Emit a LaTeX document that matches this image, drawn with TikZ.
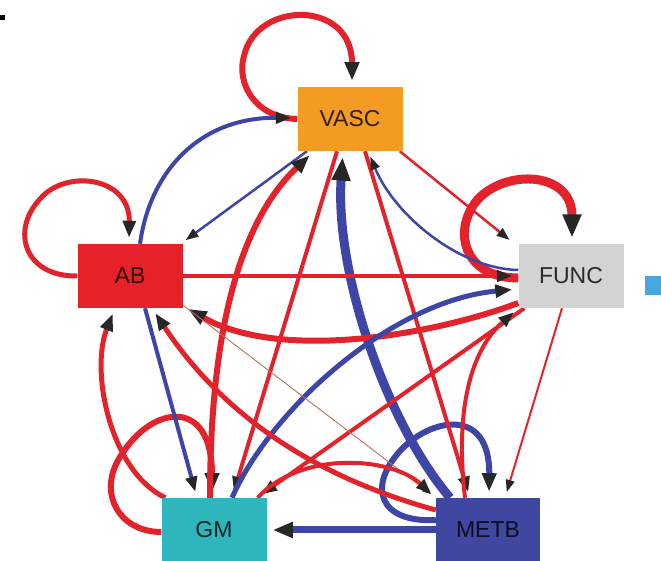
\documentclass[tikz,border=0pt]{standalone}
\usepackage{fontspec}
\setmainfont{Liberation Sans}
\usepackage{xcolor}
\usepackage{tikz}
\usetikzlibrary{arrows.meta,backgrounds}
\definecolor{vascorange}{HTML}{F49B24}
\definecolor{abred}{HTML}{E62129}
\definecolor{funcgrey}{HTML}{D3D3D3}
\definecolor{gmteal}{HTML}{2FB6BD}
\definecolor{metbblue}{HTML}{3F47A1}
\definecolor{edgered}{HTML}{E2232B}
\definecolor{edgeblue}{HTML}{3D45A6}
\definecolor{tipgrey}{HTML}{272727}
\definecolor{thinbrown}{HTML}{B8705C}
\definecolor{markblue}{HTML}{4AA6DE}

\begin{document}
\begin{tikzpicture}[x=1pt,y=1pt,
      box/.style={rectangle,minimum width=105pt,minimum height=64pt,
                  inner sep=0pt,font=\fontsize{23}{27}\selectfont,
                  text=black,text opacity=0.8},
      arr/.style={-{Triangle[length=9pt 1.6,width=6pt 1.3,color=tipgrey]},
                  shorten >=6pt},
      redl/.style={arr,draw=edgered,line width=#1},
      redl/.default=4pt,
      bluel/.style={arr,draw=edgeblue,line width=#1},
      bluel/.default=4pt,
      thinl/.style={-{Triangle[length=9pt,width=6pt,color=tipgrey]},
                  draw=thinbrown,line width=0.9pt,shorten >=6pt}]
    \useasboundingbox (0,0) rectangle (661,561);

    \node[box,fill=vascorange] (vasc) at (350,442) {VASC};
    \node[box,fill=abred]      (ab)   at (130,285) {AB};
    \node[box,fill=funcgrey]   (func) at (571,285) {FUNC};
    \node[box,fill=gmteal]     (gm)   at (214,31)  {GM};
    \node[box,fill=metbblue,minimum width=104pt] (metb) at (488,31) {METB};

    \fill[markblue] (645,266) rectangle (665,285);
    \fill[black] (0,541) rectangle (5,546);

    \begin{scope}[on background layer]
    % self loops
    \draw[redl=6pt] (vasc.west) .. controls (255,443) and (236,478) .. (244,505)
          .. controls (256,560) and (352,562) .. ([xshift=2pt]vasc.north);
    \draw[redl=5pt] (ab.west) .. controls (25,284) and (10,330) .. (40,362)
          .. controls (65,392) and (130,385) .. ([xshift=-1pt]ab.north);
    \draw[redl=9pt] ([yshift=-2pt]func.west) .. controls (470,283) and (455,320) .. (470,350)
          .. controls (490,392) and (572,395) .. ([xshift=1pt]func.north);
    \draw[redl=6pt] ([yshift=-2pt]gm.west) .. controls (118,29) and (96,70) .. (122,107)
          .. controls (152,155) and (212,165) .. ([xshift=-2pt]gm.north);
    \draw[bluel=6pt] ([yshift=10pt]metb.west) .. controls (378,38) and (368,75) .. (400,110)
          .. controls (430,143) and (490,155) .. ([xshift=1pt]metb.north);

    \draw[bluel=4pt] ([xshift=10pt]ab.north) .. controls (150,390) and (200,444) .. ([yshift=1pt]vasc.west);
    \draw[bluel=2.5pt] ([xshift=-43pt]vasc.south) -- ([xshift=-2pt]ab.north east);
    \draw[redl=6pt] ([xshift=-4pt]gm.north) .. controls (210,200) and (230,330) .. ([xshift=-36pt]vasc.south);
    \draw[redl] ([xshift=-13pt]vasc.south) -- ([xshift=18pt]gm.north);
    \draw[bluel=9pt] ([xshift=-38pt]metb.north) .. controls (385,140) and (335,290) .. ([xshift=-7pt]vasc.south);
    \draw[redl] ([xshift=15pt]vasc.south) -- ([xshift=-18pt]metb.north);
    \draw[redl=2.5pt] ([xshift=-3pt]vasc.south east) -- ([xshift=-4pt]func.north west);
    \draw[bluel=2.5pt] ([yshift=6pt]func.west) .. controls (460,292) and (395,345) .. ([xshift=18pt]vasc.south);

    \draw[redl] (ab.east) -- (func.west);
    \draw[redl=6pt] ([yshift=-27pt]func.west) .. controls (430,225) and (280,200) .. ([yshift=-30pt]ab.east);
    \draw[bluel=5pt] ([xshift=18pt]gm.north) .. controls (270,150) and (390,260) .. ([yshift=-13pt]func.west);
    \draw[redl] ([xshift=6pt]func.south west) -- ([xshift=-10pt]gm.north east);
    \draw[redl] ([xshift=-23pt]metb.north) .. controls (455,150) and (470,210) .. (func.south west);
    \draw[redl=2pt] ([xshift=-9pt]func.south) -- ([xshift=17pt]metb.north);

    \draw[bluel] ([xshift=15pt]ab.south) -- ([xshift=-17pt]gm.north);
    \draw[redl=5pt] ([xshift=4pt]gm.north west) .. controls (110,90) and (90,190) .. ([xshift=-15pt]ab.south);
    \draw[redl=5pt] ([yshift=20pt]metb.west) .. controls (330,80) and (230,135) .. ([xshift=22pt]ab.south);
    \draw[thinl] ([yshift=-29pt]ab.east) -- (metb.north west);
    \draw[redl] ([xshift=-9pt]gm.north east) .. controls (300,110) and (390,105) .. (metb.north west);
    \draw[bluel=7pt] (metb.west) -- (gm.east);
    \end{scope}
  \end{tikzpicture}
\end{document}
